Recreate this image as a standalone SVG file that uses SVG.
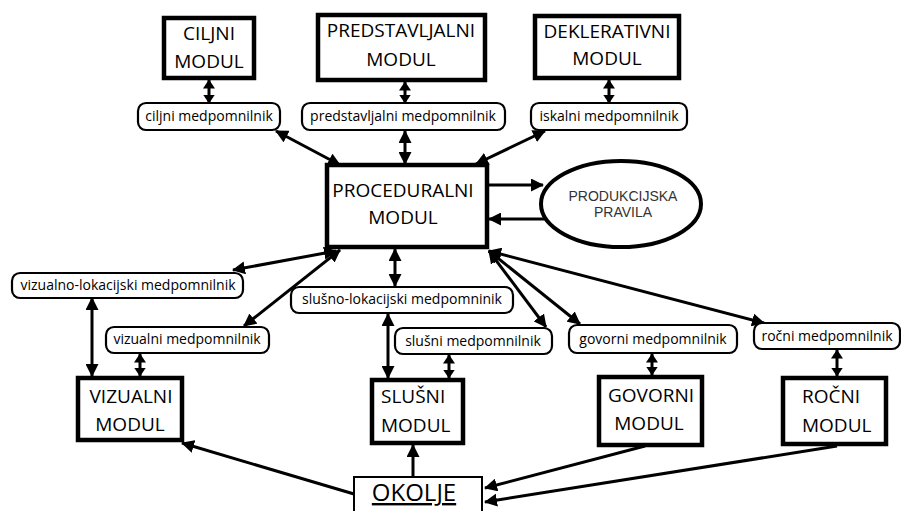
<svg xmlns="http://www.w3.org/2000/svg" width="901" height="511" viewBox="0 0 901 511">
<style>
.mod{fill:#fff;stroke:#000;stroke-width:4.5}
.buf{fill:#fff;stroke:#000;stroke-width:2.2}
.mt{font-family:"Open Sans",Lato,sans-serif;font-size:19px;fill:#000;text-anchor:middle}
.ml{font-family:"Open Sans",Lato,sans-serif;font-size:19px;fill:#000;text-anchor:start}
.bt{font-family:"Open Sans",Lato,sans-serif;font-size:14px;fill:#000;text-anchor:middle}
.et{font-family:"Liberation Sans",Arial,sans-serif;font-size:14px;fill:#333;text-anchor:middle}
.c{fill:none;stroke:#000;stroke-width:3}
.d{marker-start:url(#ah);marker-end:url(#ah)}
.s{marker-end:url(#ah)}
.ds{marker-start:url(#sh);marker-end:url(#sh)}
</style>
<defs>
<marker id="ah" markerUnits="userSpaceOnUse" markerWidth="13" markerHeight="13" refX="12" refY="6.5" orient="auto-start-reverse" viewBox="0 0 13 13">
<path d="M0,0 L13,6.5 L0,13 Z" fill="#000"/>
</marker>
<marker id="sh" markerUnits="userSpaceOnUse" markerWidth="9" markerHeight="12" refX="8.5" refY="6" orient="auto-start-reverse" viewBox="0 0 9 12">
<path d="M0,0 L9,6 L0,12 Z" fill="#000"/>
</marker>
</defs>
<rect width="901" height="511" fill="#fff"/>

<g id="connectors">
<path class="c ds" d="M209,80 L209,103"/>
<path class="c ds" d="M405,82 L405,103"/>
<path class="c ds" d="M609,80 L609,103"/>
<path class="c d" d="M276,131 L340,165"/>
<path class="c d" d="M405,131 L405,164"/>
<path class="c d" d="M545,131 L476,164"/>
<path class="c s" d="M489,185 L543,185"/>
<path class="c s" d="M545,219 L489,219"/>
<path class="c d" d="M233,270 L336,251"/>
<path class="c d" d="M244,326 L340,250"/>
<path class="c d" d="M395,249 L395,286"/>
<path class="c d" d="M489,251 L546,327"/>
<path class="c d" d="M489,251 L580,324"/>
<path class="c d" d="M489,251 L764,323"/>
<path class="c d" d="M92,298 L92,376"/>
<path class="c ds" d="M140,354 L140,376"/>
<path class="c d" d="M388,314 L388,378"/>
<path class="c ds" d="M449,355 L449,378"/>
<path class="c ds" d="M652,354 L652,375"/>
<path class="c ds" d="M837,350 L837,376"/>
<path class="c s" d="M354,494 L182,443"/>
<path class="c s" d="M413,477 L413,445"/>
<path class="c s" d="M645,446 L485,488"/>
<path class="c s" d="M837,446 L485,502"/>
</g>

<g id="ciljni-modul"><rect class="mod" x="164" y="18" width="90" height="60"/><text class="mt" x="209" y="40">CILJNI</text><text class="mt" x="209" y="68">MODUL</text></g>
<g id="predstavljalni-modul"><rect class="mod" x="318" y="15" width="167" height="65"/><text class="mt" x="401" y="37">PREDSTAVLJALNI</text><text class="mt" x="401" y="66">MODUL</text></g>
<g id="deklerativni-modul"><rect class="mod" x="535" y="16" width="144" height="62"/><text class="mt" x="607" y="38">DEKLERATIVNI</text><text class="mt" x="607" y="65">MODUL</text></g>

<g id="ciljni-buf"><rect class="buf" x="138" y="103" width="142" height="27" rx="8"/><text class="bt" x="209" y="121">ciljni medpomnilnik</text></g>
<g id="predstavljalni-buf"><rect class="buf" x="302" y="103" width="203" height="27" rx="8"/><text class="bt" x="403" y="121">predstavljalni medpomnilnik</text></g>
<g id="iskalni-buf"><rect class="buf" x="531" y="103" width="156" height="27" rx="8"/><text class="bt" x="609" y="121">iskalni medpomnilnik</text></g>

<g id="proceduralni-modul"><rect class="mod" x="327" y="165" width="160" height="82"/><text class="mt" x="403" y="197">PROCEDURALNI</text><text class="mt" x="403" y="224">MODUL</text></g>

<g id="produkcijska-pravila"><ellipse cx="621" cy="204" rx="80" ry="43" fill="#fff" stroke="#000" stroke-width="4"/><text class="et" x="623" y="201">PRODUKCIJSKA</text><text class="et" x="623" y="217">PRAVILA</text></g>

<g id="vizlok-buf"><rect class="buf" x="12" y="273" width="231" height="25" rx="8"/><text class="bt" x="128" y="290">vizualno-lokacijski medpomnilnik</text></g>
<g id="sluslok-buf"><rect class="buf" x="291" y="287" width="222" height="26" rx="8"/><text class="bt" x="402" y="304">slušno-lokacijski medpomninik</text></g>
<g id="vizualni-buf"><rect class="buf" x="106" y="327" width="163" height="26" rx="8"/><text class="bt" x="187" y="344">vizualni medpomnilnik</text></g>
<g id="slusni-buf"><rect class="buf" x="395" y="328" width="157" height="26" rx="8"/><text class="bt" x="473" y="346">slušni medpomnilnik</text></g>
<g id="govorni-buf"><rect class="buf" x="569" y="325" width="168" height="28" rx="8"/><text class="bt" x="653" y="344">govorni medpomnilnik</text></g>
<g id="rocni-buf"><rect class="buf" x="754" y="323" width="146" height="26" rx="8"/><text class="bt" x="827" y="341">ročni medpomnilnik</text></g>

<g id="vizualni-modul"><rect class="mod" x="78" y="378" width="104" height="62"/><text class="mt" x="131" y="403">VIZUALNI</text><text class="mt" x="130" y="431">MODUL</text></g>
<g id="slusni-modul"><rect class="mod" x="372" y="380" width="91" height="63"/><text class="ml" x="381" y="403">SLUŠNI</text><text class="ml" x="381" y="432">MODUL</text></g>
<g id="govorni-modul"><rect class="mod" x="599" y="377" width="103" height="68"/><text class="mt" x="651" y="402">GOVORNI</text><text class="mt" x="649" y="430">MODUL</text></g>
<g id="rocni-modul"><rect class="mod" x="783" y="378" width="103" height="66"/><text class="ml" x="802" y="403">ROČNI</text><text class="ml" x="802" y="432">MODUL</text></g>

<g id="okolje"><rect x="354" y="477" width="128" height="40" fill="#fff" stroke="#000" stroke-width="2"/><text x="414" y="501" font-family="Open Sans,Lato,sans-serif" font-size="24" fill="#000" text-anchor="middle" text-decoration="underline">OKOLJE</text></g>
</svg>
